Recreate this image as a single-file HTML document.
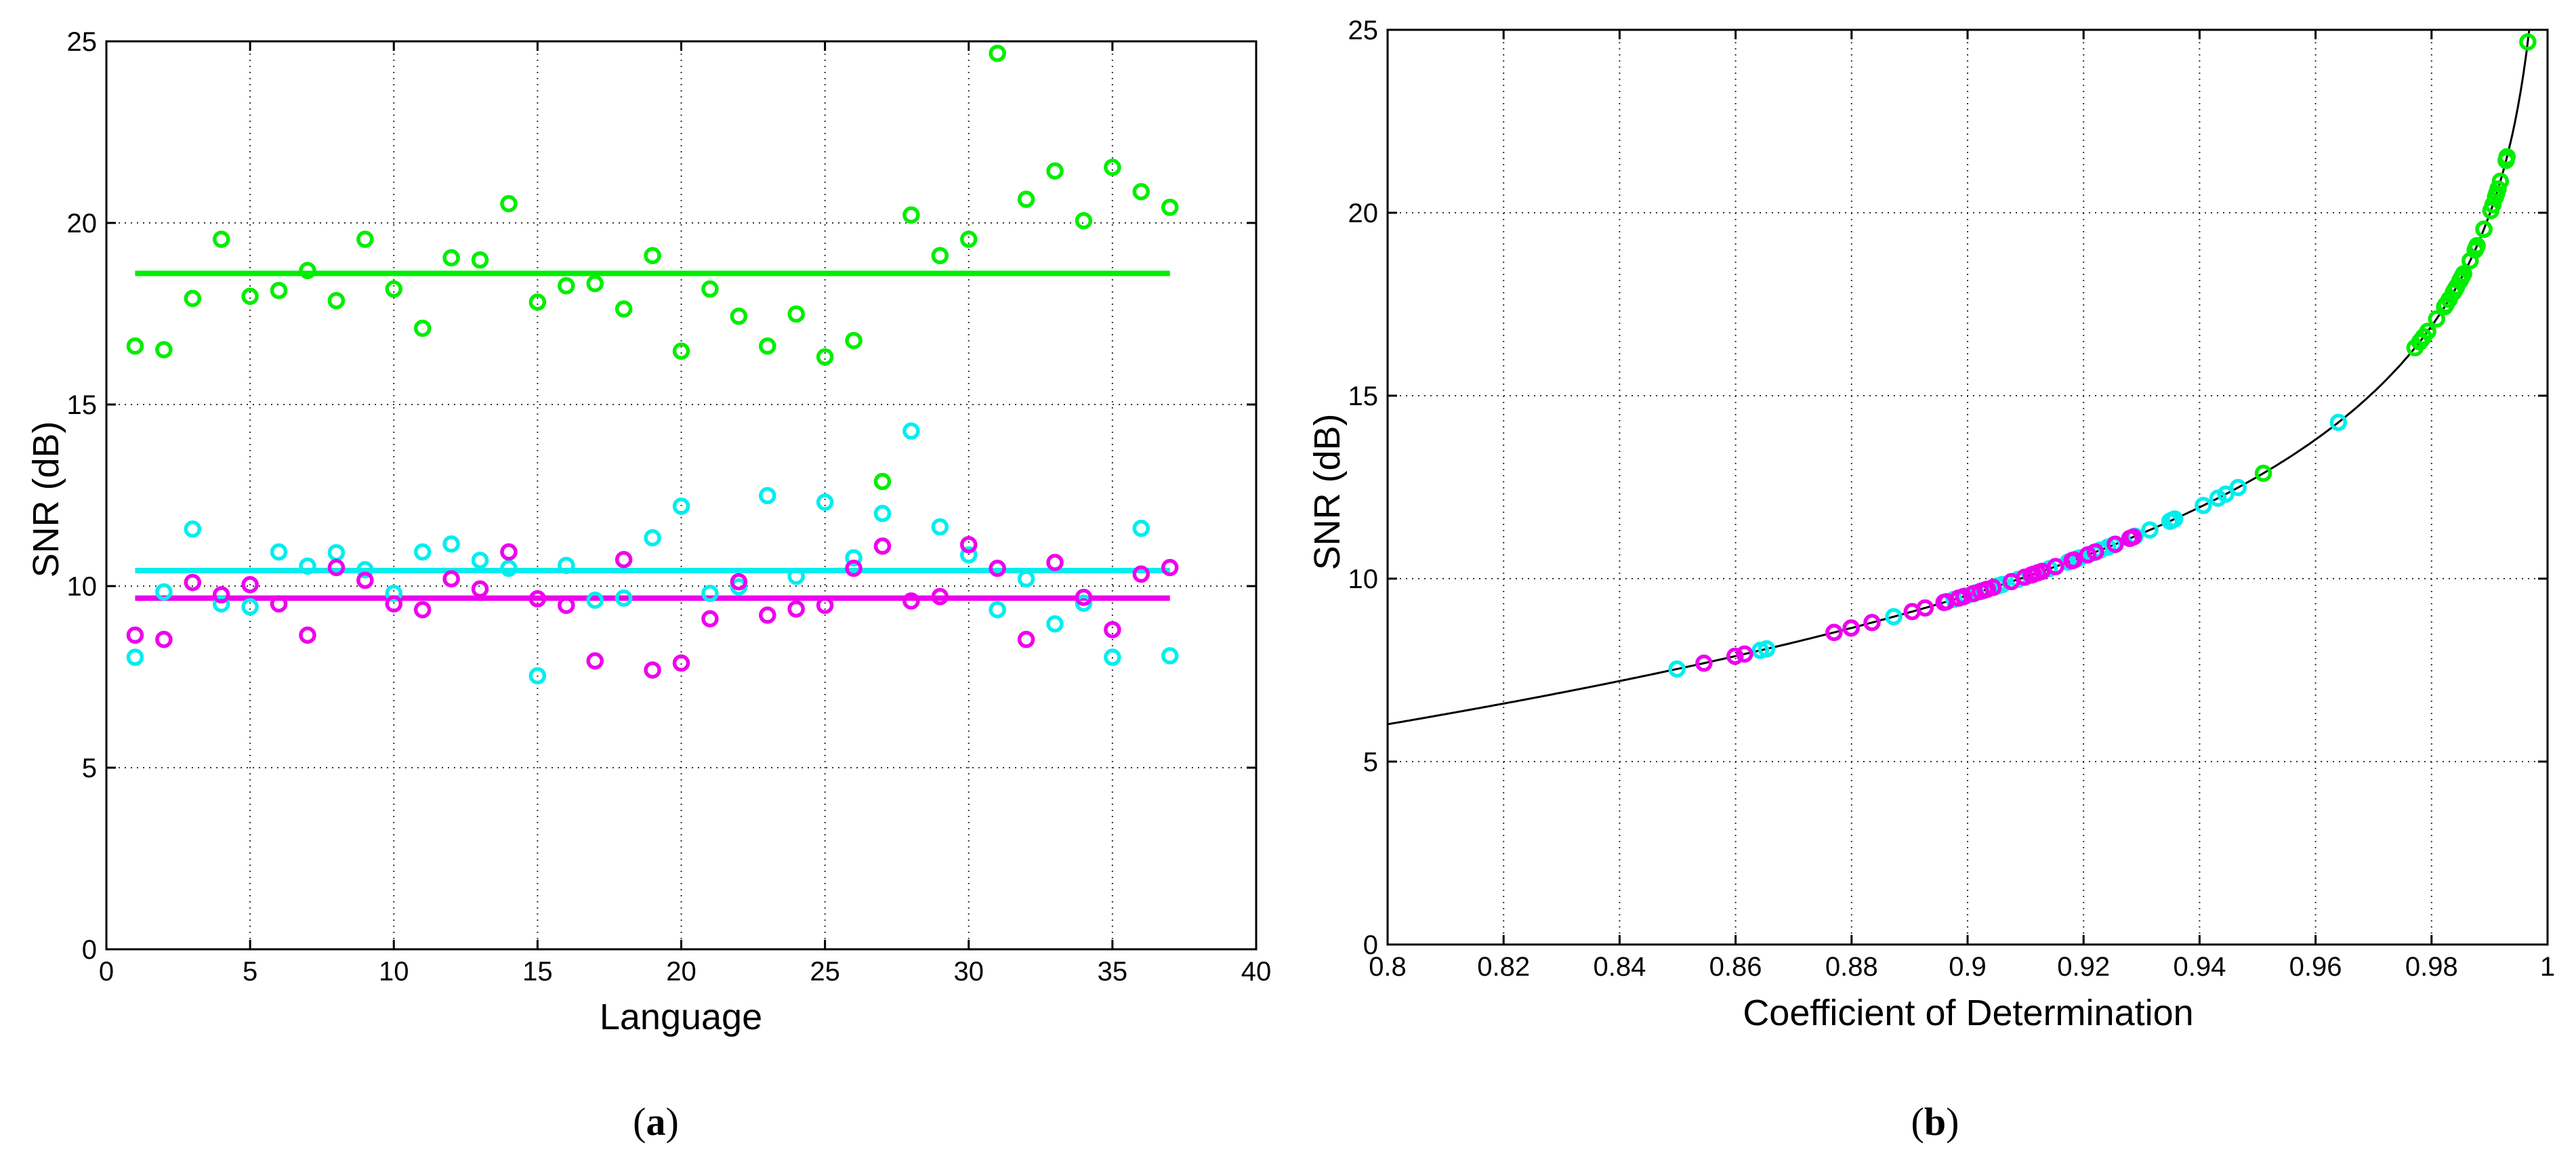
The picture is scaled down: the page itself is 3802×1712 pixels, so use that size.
<!DOCTYPE html>
<html><head><meta charset="utf-8"><style>
html,body{margin:0;padding:0;background:#fff;}
svg{display:block;font-family:"Liberation Sans",sans-serif;}
</style></head><body>
<svg id="fig" width="3802" height="1712" viewBox="0 0 3802 1712"></svg>
<script>
const greenVals=[16.61,16.51,17.92,19.55,17.98,18.14,18.69,17.86,19.55,18.18,17.10,19.04,18.98,20.53,17.82,18.27,18.33,17.63,19.10,16.47,18.18,17.43,16.61,17.49,16.31,16.76,12.88,20.22,19.10,19.55,24.67,20.65,21.43,20.06,21.53,20.86,20.43];
const cyanVals=[8.04,9.84,11.57,9.51,9.43,10.94,10.55,10.92,10.45,9.80,10.94,11.16,10.71,10.49,7.53,10.57,9.61,9.67,11.33,12.20,9.80,9.98,12.49,10.27,12.31,10.78,12.00,14.27,11.63,10.86,9.35,10.20,8.96,9.53,8.04,11.59,8.08];
const magentaVals=[8.65,8.53,10.10,9.76,10.04,9.51,8.65,10.51,10.16,9.51,9.35,10.20,9.92,10.94,9.65,9.47,7.94,10.73,7.69,7.88,9.10,10.12,9.20,9.37,9.47,10.49,11.10,9.59,9.71,11.14,10.49,8.53,10.65,9.69,8.80,10.33,10.51];
const meanVals=[18.61,10.43,9.67];
const xTicksA=[0,5,10,15,20,25,30,35,40];
const yTicks=[0,5,10,15,20,25];
const xTicksB=[0.8,0.82,0.84,0.86,0.88,0.9,0.92,0.94,0.96,0.98,1];
const xTickLabelsB=["0.8","0.82","0.84","0.86","0.88","0.9","0.92","0.94","0.96","0.98","1"];

const NS="http://www.w3.org/2000/svg";
const svg=document.getElementById('fig');
function mk(tag,attrs,parent){const e=document.createElementNS(NS,tag);for(const k in attrs)e.setAttribute(k,attrs[k]);(parent||svg).appendChild(e);return e;}
const colors=['#00ee00','#00eeee','#ee00ee'];
const series=[greenVals,cyanVals,magentaVals];

function axes(L,R,T,B,xmin,xmax,xt,xtl,name){
  const g=mk('g',{});
  
  
  const sx=v=>L+(v-xmin)/(xmax-xmin)*(R-L);
  const sy=v=>B-(v/25)*(B-T);
  xt.forEach((t,i)=>{
    const x=sx(t);
    if(i>0&&i<xt.length-1){const gl=mk('line',{x1:x,y1:T,x2:x,y2:B,stroke:'#333','stroke-width':2,'stroke-dasharray':'2 7'},g);}
    mk('line',{x1:x,y1:B,x2:x,y2:B-14,stroke:'#000','stroke-width':3},g);
    mk('line',{x1:x,y1:T,x2:x,y2:T+14,stroke:'#000','stroke-width':3},g);
    const tx=mk('text',{x:x,y:B+46,'font-size':40,'text-anchor':'middle'},g);
    tx.textContent=xtl[i];
    
    
  });
  yTicks.forEach((t,i)=>{
    const y=sy(t);
    if(i>0&&i<yTicks.length-1){const gl=mk('line',{x1:L,y1:y,x2:R,y2:y,stroke:'#333','stroke-width':2,'stroke-dasharray':'2 7'},g);}
    mk('line',{x1:L,y1:y,x2:L+14,y2:y,stroke:'#000','stroke-width':3},g);
    mk('line',{x1:R,y1:y,x2:R-14,y2:y,stroke:'#000','stroke-width':3},g);
    const tx=mk('text',{x:L-14,y:y+14,'font-size':40,'text-anchor':'end'},g);
    tx.textContent=t;
    
    
  });
  mk('rect',{x:L,y:T,width:R-L,height:B-T,fill:'none',stroke:'#000','stroke-width':3},g);
  return {sx,sy};
}

// Panel (a)
const A=axes(157,1854,61,1401,0,40,xTicksA,xTicksA.map(String),'panel-a-axes');
meanVals.forEach((m,si)=>{
  const l=mk('line',{x1:A.sx(1),y1:A.sy(m),x2:A.sx(37),y2:A.sy(m),stroke:colors[si],'stroke-width':8});
  
  
});
series.forEach((arr,si)=>{
  arr.forEach((v,i)=>{
    const c=mk('circle',{cx:A.sx(i+1),cy:A.sy(v),r:10,fill:'none',stroke:colors[si],'stroke-width':5.5});
    
    
  });
});
let t=mk('text',{x:1005,y:1519,'font-size':54,'text-anchor':'middle'});t.textContent='Language';

t=mk('text',{x:0,y:0,'font-size':54,'text-anchor':'middle',transform:'translate(86,737) rotate(-90)'});t.textContent='SNR (dB)';

t=mk('text',{x:968,y:1675,'font-size':58,'text-anchor':'middle','font-family':'Liberation Serif,serif'});t.innerHTML='(<tspan font-weight="bold">a</tspan>)';


// Panel (b)
const B=axes(2048,3760,44,1394,0.8,1,xTicksB,xTickLabelsB,'panel-b-axes');
const snrToR2=s=>1/(1+Math.pow(10,-s/10));
let d='';
for(let k=0;k<=400;k++){const r=0.8+k*(0.99685-0.8)/400;const s=10*Math.log10(r/(1-r));d+=(k?'L':'M')+B.sx(r).toFixed(1)+' '+B.sy(s).toFixed(1);}
const cp=mk('path',{d:d,fill:'none',stroke:'#000','stroke-width':3});


series.forEach((arr,si)=>{
  arr.forEach(v=>{
    const c=mk('circle',{cx:B.sx(snrToR2(v)),cy:B.sy(v),r:10,fill:'none',stroke:colors[si],'stroke-width':5.5});
    
    
  });
});
t=mk('text',{x:2905,y:1513,'font-size':54,'text-anchor':'middle'});t.textContent='Coefficient of Determination';

t=mk('text',{x:0,y:0,'font-size':54,'text-anchor':'middle',transform:'translate(1977,726) rotate(-90)'});t.textContent='SNR (dB)';

t=mk('text',{x:2856,y:1675,'font-size':58,'text-anchor':'middle','font-family':'Liberation Serif,serif'});t.innerHTML='(<tspan font-weight="bold">b</tspan>)';

</script>
</body></html>
